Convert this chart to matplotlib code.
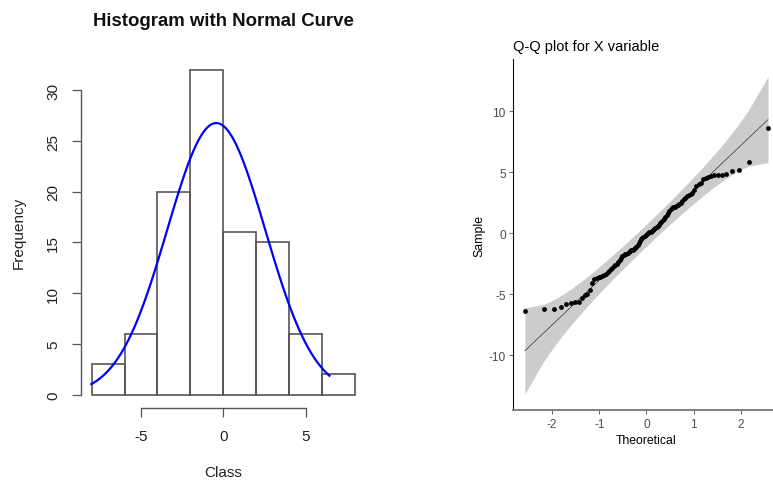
import numpy as np
import matplotlib
matplotlib.use("Agg")
import matplotlib.pyplot as plt
from statistics import NormalDist

plt.rcParams['font.family'] = ['Liberation Sans', 'DejaVu Sans']
plt.rcParams['axes.unicode_minus'] = False

# ---------------- data ----------------
# Histogram (left panel)
hist_breaks = [-8, -6, -4, -2, 0, 2, 4, 6, 8]
hist_counts = [3, 6, 20, 32, 16, 15, 6, 2]
curve_mean = -0.43
curve_sd = 2.98
curve_from = -8.08
curve_to = 6.5
hist_xticks = [-5, 0, 5]
hist_yticks = [0, 5, 10, 15, 20, 25, 30]

# Q-Q plot (right panel): sorted sample values
qq_sample = [
    -6.34, -6.22, -6.20, -6.00, -5.80, -5.71, -5.62, -5.60, -5.28, -5.06,
    -5.00, -4.65, -4.08, -3.78, -3.70, -3.62, -3.58, -3.52, -3.45, -3.35,
    -3.20, -3.08, -2.95, -2.82, -2.70, -2.62, -2.48, -2.35, -2.22, -2.05,
    -1.85, -1.78, -1.74, -1.68, -1.60, -1.52, -1.46, -1.40, -1.34, -1.28,
    -1.20, -1.10, -0.98, -0.80, -0.62, -0.48, -0.38, -0.28, -0.20, -0.14,
    -0.08, 0.00, 0.06, 0.12, 0.20, 0.28, 0.34, 0.42, 0.50, 0.58,
    0.68, 0.80, 0.92, 1.05, 1.20, 1.35, 1.50, 1.68, 1.84, 1.95,
    2.05, 2.12, 2.18, 2.24, 2.30, 2.36, 2.48, 2.62, 2.78, 2.92,
    3.05, 3.15, 3.22, 3.32, 3.50, 3.90, 4.00, 4.15, 4.40, 4.48,
    4.60, 4.70, 4.73, 4.76, 4.79, 4.84, 5.12, 5.14, 5.83, 8.58,
]
qq_xticks = [-2, -1, 0, 1, 2]
qq_yticks = [-10, -5, 0, 5, 10]

# ---------------- figure ----------------
W, H = 773, 481
fig = plt.figure(figsize=(W / 100, H / 100), dpi=100)

def px_rect(l, t, r, b):
    return [l / W, 1 - b / H, (r - l) / W, (b - t) / H]

# ---------- left: histogram ----------
ax1 = fig.add_axes(px_rect(81.1, 58.0, 365.5, 408.7))
ax1.set_xlim(-8.64, 8.64)
ax1.set_ylim(-1.28, 33.28)
edges = np.array(hist_breaks, dtype=float)
ax1.bar(edges[:-1], hist_counts, width=np.diff(edges), align='edge',
        fill=False, edgecolor='#555555', linewidth=1.2)
n = sum(hist_counts)
bw = edges[1] - edges[0]
nd = NormalDist(curve_mean, curve_sd)
xs = np.linspace(curve_from, curve_to, 101)
ys = np.array([nd.pdf(v) for v in xs]) * n * bw
ax1.plot(xs, ys, color='#0000FF', linewidth=1.6, solid_capstyle='butt')

for s in ['top', 'right']:
    ax1.spines[s].set_visible(False)
for s in ['left', 'bottom']:
    ax1.spines[s].set_color('#555555')
    ax1.spines[s].set_linewidth(1.0)
ax1.spines['left'].set_bounds(0, 30)
ax1.spines['bottom'].set_bounds(-5, 5)
ax1.set_xticks(hist_xticks)
ax1.set_yticks(hist_yticks)
ax1.set_xticklabels([str(v) for v in hist_xticks])
ax1.set_yticklabels([str(v) for v in hist_yticks], rotation=90, va='center')
ax1.tick_params(axis='both', direction='out', length=6.5, width=0.9,
                color='#555555', labelsize=11, labelcolor='#222222')
ax1.tick_params(axis='y', pad=8.5)
ax1.tick_params(axis='x', pad=9)
ax1.set_facecolor('none')

fig.text(223.3 / W, 1 - 25.5 / H, 'Histogram with Normal Curve',
         ha='center', va='baseline', fontsize=13.4, fontweight='bold', color='#111111')
fig.text(223.3 / W, 1 - 477.5 / H, 'Class', ha='center', va='baseline',
         fontsize=11, color='#222222')
fig.text(18.3 / W, 1 - 233 / H, 'Frequency', ha='center', va='center',
         rotation=90, fontsize=11, color='#222222')

# ---------- right: Q-Q plot ----------
ax2 = fig.add_axes(px_rect(512.7, 60.0, 780.2, 411.0))
ax2.set_xlim(-2.834, 2.834)
ax2.set_ylim(-14.47, 14.26)

m = len(qq_sample)
std = NormalDist()
probs = [(i + 0.5) / m for i in range(m)]
theo = np.array([std.inv_cdf(p) for p in probs])
samp = np.sort(np.array(qq_sample))
q1, q3 = np.quantile(samp, [0.25, 0.75])
z1, z3 = std.inv_cdf(0.25), std.inv_cdf(0.75)
slope = (q3 - q1) / (z3 - z1)
intercept = q1 - slope * z1
fit = intercept + slope * theo
pr = np.array(probs)
se = slope / np.array([std.pdf(t) for t in theo]) * np.sqrt(pr * (1 - pr) / m)
zc = std.inv_cdf(0.975)
ax2.fill_between(theo, fit - zc * se, fit + zc * se, color='#CCCCCC', linewidth=0, zorder=1)
ax2.plot(theo, fit, color='#222222', linewidth=0.45, zorder=2)
ax2.scatter(theo, samp, s=12, color='black', linewidths=0, zorder=3)

for s in ['top', 'right']:
    ax2.spines[s].set_visible(False)
ax2.spines['left'].set_color('#111111')
ax2.spines['left'].set_linewidth(0.8)
ax2.spines['bottom'].set_color('#808080')
ax2.spines['bottom'].set_linewidth(1.4)
ax2.set_xticks(qq_xticks)
ax2.set_yticks(qq_yticks)
ax2.set_xticklabels([str(v) for v in qq_xticks])
ax2.set_yticklabels([str(v) for v in qq_yticks])
ax2.tick_params(axis='both', direction='out', length=2.6, width=0.7,
                color='#666666', labelsize=8.6, labelcolor='#4D4D4D', pad=2.4)
ax2.tick_params(axis='x', pad=3.4)
ax2.set_facecolor('none')

fig.text(512.7 / W, 1 - 51.5 / H, 'Q-Q plot for X variable', ha='left', va='baseline',
         fontsize=10.5, color='black')
fig.text(645.7 / W, 1 - 444 / H, 'Theoretical', ha='center', va='baseline',
         fontsize=8.8, color='black')
fig.text(479.5 / W, 1 - 235.7 / H, 'Sample', ha='center', va='center',
         rotation=90, fontsize=8.8, color='black')

fig.savefig('out.png', dpi=100)
